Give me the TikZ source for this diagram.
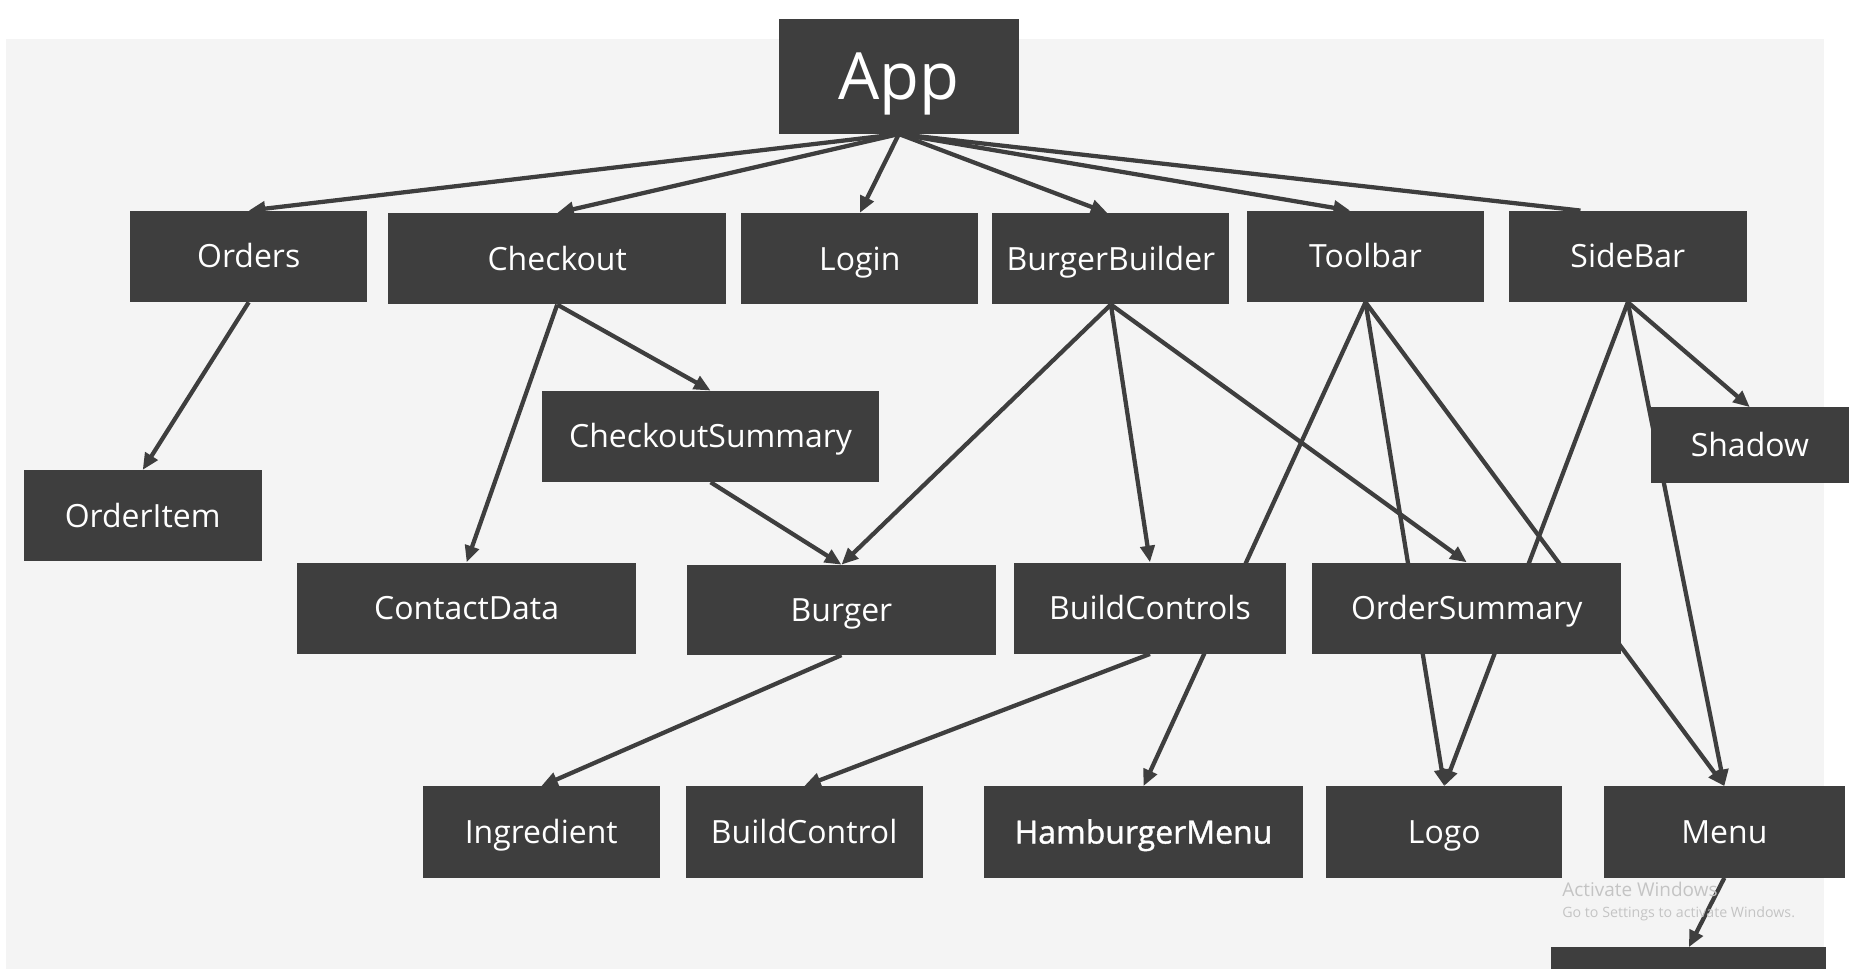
\documentclass[tikz,border=0pt]{standalone}
\usepackage{fontspec}
\setmainfont{Open Sans}
\usetikzlibrary{arrows.meta,calc}
\pgfdeclarelayer{bglayer}
\pgfdeclarelayer{edgelayer}
\pgfsetlayers{bglayer,edgelayer,main}
\definecolor{boxc}{HTML}{3E3E3E}
\definecolor{pagebg}{HTML}{F4F4F4}
\definecolor{wm}{HTML}{C4C4C4}
\tikzset{
  comp/.style={rectangle, fill=boxc, text=white, inner sep=0pt, text height=19.5pt, text depth=0pt, font=\fontsize{27}{32}\selectfont},
  link/.style={draw=boxc, line width=3.6pt, -{Triangle[length=14pt,width=12pt]}},
  plainlink/.style={draw=boxc, line width=3.6pt},
}
\newcommand{\comp}[6]{\node[comp, minimum width=#4pt, minimum height=#5pt] (#1) at (#2,#3) {#6};}
\begin{document}
\begin{tikzpicture}[x=1pt,y=-1pt]
\useasboundingbox (0,0) rectangle (1568,818);
\clip (0,0) rectangle (1568,818);
\begin{pgfonlayer}{bglayer}
  \fill[white] (0,0) rectangle (1568,818);
  \fill[pagebg] (5,33) rectangle (1540,818);
\end{pgfonlayer}
% nodes: name, cx, cy, w, h, text
\node[comp, minimum width=202pt, minimum height=97pt, text height=39pt, font=\fontsize{55}{60}\selectfont] (app) at (759,64.5) {App};
\comp{orders}{210}{216.5}{200}{77}{Orders}
\comp{checkout}{470.5}{218.5}{285}{77}{Checkout}
\comp{login}{726}{218.5}{200}{77}{Login}
\comp{bb}{938}{218.5}{200}{77}{BurgerBuilder}
\comp{toolbar}{1153}{216.5}{200}{77}{Toolbar}
\comp{sidebar}{1374.5}{216.5}{201}{77}{SideBar}
\comp{cs}{600}{368.5}{284}{77}{CheckoutSummary}
\comp{shadow}{1477.5}{376}{167}{64}{Shadow}
\comp{orderitem}{120.5}{435.5}{201}{77}{OrderItem}
\comp{contact}{394}{513.5}{286}{77}{ContactData}
\comp{burger}{710.5}{515}{261}{76}{Burger}
\comp{bcs}{971}{513.5}{230}{77}{BuildControls}
\comp{os}{1238.5}{513.5}{261}{77}{OrderSummary}
\comp{ingredient}{457}{702.5}{200}{77}{Ingredient}
\comp{bc}{679}{702.5}{200}{77}{BuildControl}
\comp{hm}{965.5}{702.5}{269}{77}{\fontspec{Open Sans}[FakeBold=1.2]HamburgerMenu}
\comp{logo}{1219.5}{702.5}{199}{77}{Logo}
\comp{menu}{1456}{702.5}{204}{77}{Menu}
\comp{more}{1426}{830}{232}{60}{}
\begin{pgfonlayer}{edgelayer}
  \draw[link] (app.south) -- (orders.north);
  \draw[link] (app.south) -- (checkout.north);
  \draw[link] (app.south) -- (login.north);
  \draw[link] (app.south) -- ($(bb.north)+(-3,0)$);
  \draw[link] (app.south) -- ($(toolbar.north)+(-13,0)$);
  \draw[plainlink] (app.south) -- ($(sidebar.north)+(-40,0)$);
  \draw[link] (orders.south) -- (orderitem.north);
  \draw[link] (checkout.south) -- (contact.north);
  \draw[link] (checkout.south) -- (cs.north);
  \draw[link] (cs.south) -- (burger.north);
  \draw[link] (bb.south) -- (burger.north);
  \draw[link] (bb.south) -- (bcs.north);
  \draw[link] (bb.south) -- (os.north);
  \draw[link] (toolbar.south) -- (hm.north);
  \draw[link] (toolbar.south) -- (logo.north);
  \draw[link] (toolbar.south) -- (menu.north);
  \draw[link] (sidebar.south) -- (logo.north);
  \draw[link] (sidebar.south) -- (shadow.north);
  \draw[link] (sidebar.south) -- (menu.north);
  \draw[link] (burger.south) -- (ingredient.north);
  \draw[link] (bcs.south) -- (bc.north);
  \draw[link] (menu.south) -- (more.north);
\end{pgfonlayer}
\node[anchor=base west, text=wm, inner sep=0pt, font=\fontsize{16}{18}\selectfont] (wm1) at (1319,757) {Activate Windows};
\node[anchor=base west, text=wm, inner sep=0pt, font=\fontsize{12}{14}\selectfont] (wm2) at (1319,775) {Go to Settings to activate Windows.};
\end{tikzpicture}
\end{document}
